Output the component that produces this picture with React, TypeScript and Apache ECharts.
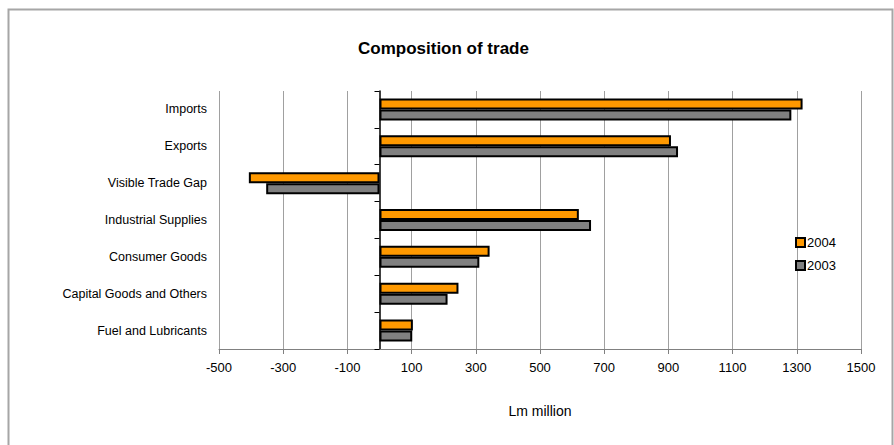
import React, { useEffect, useRef } from "react";
import * as echarts from "echarts";

const categories = [
  "Imports",
  "Exports",
  "Visible Trade Gap",
  "Industrial Supplies",
  "Consumer Goods",
  "Capital Goods and Others",
  "Fuel and Lubricants",
];
const values2004 = [1318, 908, -407, 621, 343, 246, 104];
const values2003 = [1283, 930, -353, 659, 311, 212, 102];
const seriesNames = ["2004", "2003"];
const xMin = -500;
const xMax = 1500;
const xStep = 200;

export default function App() {
  const ref = useRef<HTMLDivElement>(null);
  useEffect(() => {
    if (!ref.current) return;
    const chart = echarts.init(ref.current, null, { renderer: "svg" });
    const font = "'Liberation Sans', Arial, sans-serif";
    chart.setOption({
      animation: false,
      backgroundColor: "#ffffff",
      textStyle: { fontFamily: font, color: "#000" },
      title: {
        text: "Composition of trade",
        left: 353,
        top: 35,
        textStyle: { fontFamily: font, fontSize: 17, fontWeight: "bold", color: "#000" },
      },
      graphic: [
        {
          type: "rect",
          shape: { x: 8.5, y: 9.5, width: 884, height: 450 },
          style: { fill: "none", stroke: "#a6a6a6", lineWidth: 2 },
          silent: true,
        },
      ],
      legend: {
        data: seriesNames,
        orient: "vertical",
        left: 790,
        top: 231,
        itemWidth: 9,
        itemHeight: 9,
        itemGap: 10,
        icon: "rect",
        textStyle: { fontFamily: font, fontSize: 13, color: "#000", padding: [0, 0, 0, -3] },
      },
      grid: { left: 219, right: 33, top: 91, bottom: 96, containLabel: false, outerBoundsMode: "none" },
      xAxis: {
        type: "value",
        min: xMin,
        max: xMax,
        interval: xStep,
        name: "Lm million",
        nameLocation: "middle",
        nameGap: 55,
        nameTextStyle: { fontFamily: font, fontSize: 14, color: "#000" },
        axisLine: { show: true, onZero: false, lineStyle: { color: "#808080", width: 1 } },
        axisTick: { show: true, length: 5, lineStyle: { color: "#808080" } },
        axisLabel: {
          fontFamily: font,
          fontSize: 13,
          color: "#000",
          margin: 12,
          formatter: (v: number) => String(v),
        },
        splitLine: { show: true, lineStyle: { color: "#a0a0a0", width: 1 } },
      },
      yAxis: {
        type: "category",
        data: categories,
        inverse: true,
        axisLine: { show: true, onZero: true, lineStyle: { color: "#000", width: 1.5 } },
        axisTick: { show: true, length: 5, lineStyle: { color: "#000" } },
        axisLabel: { fontFamily: font, fontSize: 12.5, color: "#000", margin: 12 },
        splitLine: { show: false },
      },
      series: [
        {
          name: seriesNames[0],
          type: "bar",
          data: values2004,
          barWidth: 11,
          barGap: "0%",
          itemStyle: { color: "#ff9900", borderColor: "#000", borderWidth: 2 },
        },
        {
          name: seriesNames[1],
          type: "bar",
          data: values2003,
          barWidth: 11,
          barGap: "0%",
          itemStyle: { color: "#808080", borderColor: "#000", borderWidth: 2 },
        },
      ],
    });
    return () => chart.dispose();
  }, []);
  return (
    <div
      ref={ref}
      style={{ position: "fixed", left: 0, top: 0, width: 894, height: 445 }}
    />
  );
}
